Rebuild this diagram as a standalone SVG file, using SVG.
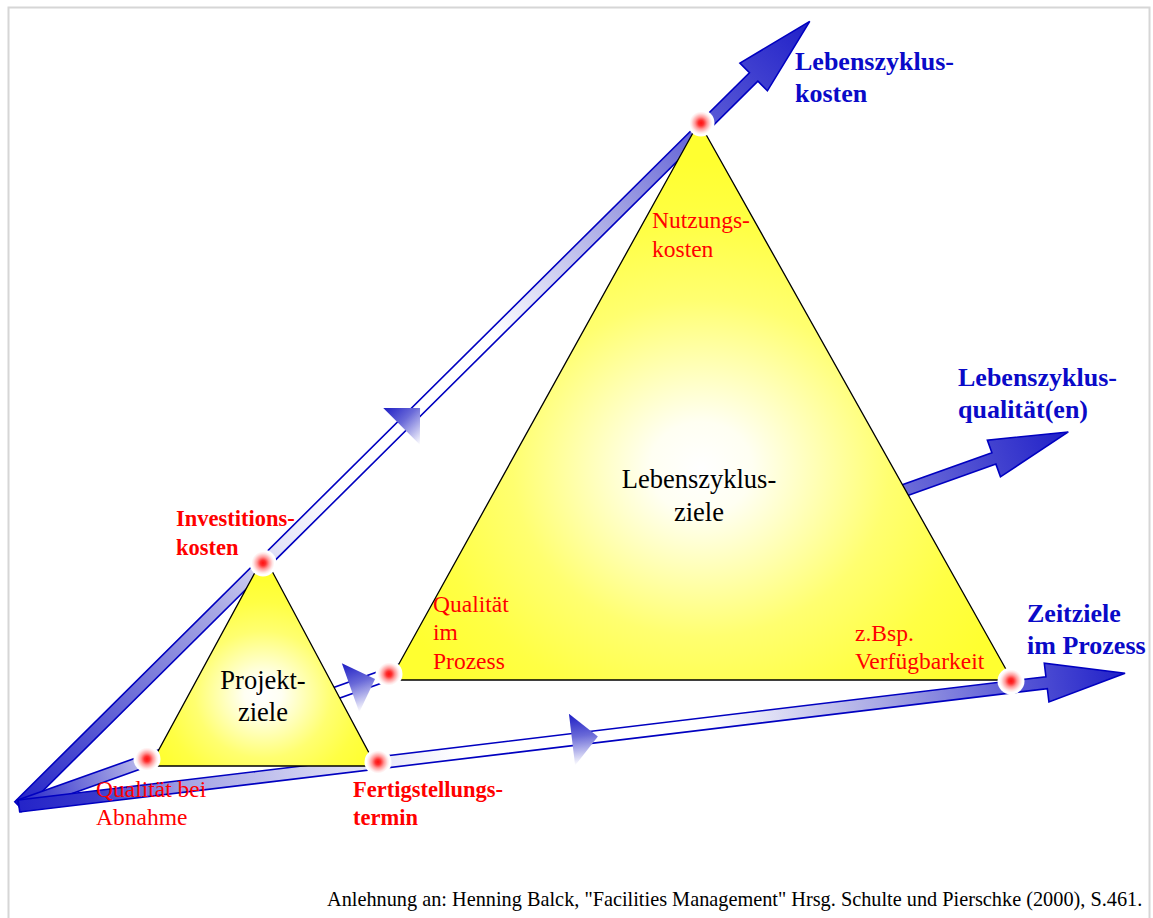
<svg xmlns="http://www.w3.org/2000/svg" width="1153" height="918" viewBox="0 0 1153 918">
  <defs>
    <style>
      .lbl-blue { font-family: "Liberation Serif", "Times New Roman", serif; font-size: 26px; font-weight: bold; fill: #0a0ac8; }
      .lbl-red { font-family: "Liberation Serif", "Times New Roman", serif; font-size: 23.5px; fill: #ff0000; }
      .lbl-red-b { font-family: "Liberation Serif", "Times New Roman", serif; font-size: 22.5px; font-weight: bold; fill: #ff0000; }
      .lbl-black { font-family: "Liberation Serif", "Times New Roman", serif; font-size: 26.5px; fill: #000000; text-anchor: middle; }
      .note { font-family: "Liberation Serif", "Times New Roman", serif; font-size: 20.3px; fill: #000000; }
      .band { stroke: #0000c0; stroke-width: 1.6; stroke-linejoin: miter; }
      .tri { stroke: #000000; stroke-width: 1.3; stroke-linejoin: miter; }
    </style>
    <!-- colour runs along each axis arrow: dark at the origin, white mid-way, dark at the head -->
    <linearGradient id="gradA" gradientUnits="userSpaceOnUse" x1="0" y1="0" x2="1114" y2="0">
      <stop offset="0" stop-color="#2424c8"/>
      <stop offset="0.25" stop-color="#a8a8e4"/>
      <stop offset="0.33" stop-color="#e4e4f8"/>
      <stop offset="0.4" stop-color="#ffffff"/>
      <stop offset="0.6" stop-color="#ffffff"/>
      <stop offset="0.76" stop-color="#a0a0e2"/>
      <stop offset="0.87" stop-color="#5a5ad6"/>
      <stop offset="1" stop-color="#2020c8"/>
    </linearGradient>
    <linearGradient id="gradB" gradientUnits="userSpaceOnUse" x1="0" y1="0" x2="1114" y2="0">
      <stop offset="0" stop-color="#2424c8"/>
      <stop offset="0.11" stop-color="#b0b0e8"/>
      <stop offset="0.2" stop-color="#ffffff"/>
      <stop offset="0.55" stop-color="#ffffff"/>
      <stop offset="0.845" stop-color="#6c6cd8"/>
      <stop offset="1" stop-color="#2020c8"/>
    </linearGradient>
    <linearGradient id="gradC" gradientUnits="userSpaceOnUse" x1="0" y1="0" x2="1114" y2="0">
      <stop offset="0" stop-color="#2424c8"/>
      <stop offset="0.07" stop-color="#3838cc"/>
      <stop offset="0.15" stop-color="#a4a4e4"/>
      <stop offset="0.3" stop-color="#dedef6"/>
      <stop offset="0.4" stop-color="#ffffff"/>
      <stop offset="0.62" stop-color="#ffffff"/>
      <stop offset="0.78" stop-color="#a8a8e4"/>
      <stop offset="0.9" stop-color="#5a5ad6"/>
      <stop offset="1" stop-color="#2020c8"/>
    </linearGradient>
    <!-- small direction marks on the bands -->
    <linearGradient id="markGrad" gradientUnits="userSpaceOnUse" x1="0" y1="-26" x2="0" y2="26">
      <stop offset="0" stop-color="#1c1cc4"/>
      <stop offset="0.45" stop-color="#6a6ad8"/>
      <stop offset="1" stop-color="#ffffff"/>
    </linearGradient>
    <!-- triangle fills: white core fading to yellow -->
    <radialGradient id="bigFill" cx="0.5" cy="0.62" r="0.55">
      <stop offset="0" stop-color="#ffffff"/>
      <stop offset="0.15" stop-color="#fffff2"/>
      <stop offset="0.55" stop-color="#ffff70"/>
      <stop offset="0.8" stop-color="#ffff44"/>
      <stop offset="1" stop-color="#ffff30"/>
    </radialGradient>
    <radialGradient id="smallFill" cx="0.5" cy="0.66" r="0.55">
      <stop offset="0" stop-color="#ffffff"/>
      <stop offset="0.15" stop-color="#fffff2"/>
      <stop offset="0.55" stop-color="#ffff70"/>
      <stop offset="0.8" stop-color="#ffff44"/>
      <stop offset="1" stop-color="#ffff30"/>
    </radialGradient>
    <!-- glowing corner points -->
    <radialGradient id="dotFill" cx="0.5" cy="0.5" r="0.5">
      <stop offset="0" stop-color="#ff1010"/>
      <stop offset="0.2" stop-color="#ff3030"/>
      <stop offset="0.45" stop-color="#ff9a9a"/>
      <stop offset="0.7" stop-color="#ffe4e4"/>
      <stop offset="0.85" stop-color="#ffffff"/>
      <stop offset="1" stop-color="#ffffff"/>
    </radialGradient>
    <polygon id="axisShape" points="0,-6 1035,-6 1035,-19.5 1114,0 1035,19.5 1035,6 0,6"/>
    <polygon id="markShape" points="0,-26 26,0 0,26"/>
  </defs>

  <!-- frame -->
  <rect x="8.5" y="7.5" width="1141" height="930" fill="#ffffff" stroke="#d6d6d6" stroke-width="2"/>

  <!-- axis arrows from the common origin -->
  <g id="connectors">
    <g id="axis-kosten" transform="translate(19,806) rotate(-44.78)">
      <use href="#axisShape" class="band" fill="url(#gradA)"/>
      <use href="#markShape" transform="translate(539,0)" fill="url(#markGrad)"/>
    </g>
    <g id="axis-qualitaet" transform="translate(19,806) rotate(-19.62)">
      <use href="#axisShape" class="band" fill="url(#gradB)"/>
      <use href="#markShape" transform="translate(352,0)" fill="url(#markGrad)"/>
    </g>
    <g id="axis-zeit" transform="translate(19,806) rotate(-6.845)">
      <use href="#axisShape" class="band" fill="url(#gradC)"/>
      <use href="#markShape" transform="translate(557,0)" fill="url(#markGrad)"/>
    </g>
  </g>

  <!-- life-cycle goals triangle -->
  <g id="node-lebenszyklusziele">
    <polygon class="tri" points="699,122 390,680 1012,680" fill="url(#bigFill)"/>
    <text class="lbl-black" x="699" y="488">Lebenszyklus-</text>
    <text class="lbl-black" x="699" y="521">ziele</text>
  </g>

  <!-- project goals triangle -->
  <g id="node-projektziele">
    <polygon class="tri" points="264,556 150,766 376,766" fill="url(#smallFill)"/>
    <text class="lbl-black" x="263" y="689">Projekt-</text>
    <text class="lbl-black" x="263" y="721">ziele</text>
  </g>

  <!-- corner points -->
  <g id="node-nutzungskosten">
    <circle cx="701" cy="123" r="13.5" fill="url(#dotFill)"/>
    <text class="lbl-red" x="652" y="228">Nutzungs-</text>
    <text class="lbl-red" x="652" y="257">kosten</text>
  </g>
  <g id="node-investitionskosten">
    <circle cx="263" cy="563" r="13.5" fill="url(#dotFill)"/>
    <text class="lbl-red-b" x="176" y="526">Investitions-</text>
    <text class="lbl-red-b" x="176" y="555">kosten</text>
  </g>
  <g id="node-qualitaet-abnahme">
    <circle cx="147" cy="759" r="13.5" fill="url(#dotFill)"/>
    <text class="lbl-red" x="96" y="797">Qualität bei</text>
    <text class="lbl-red" x="96" y="825">Abnahme</text>
  </g>
  <g id="node-fertigstellungstermin">
    <circle cx="378" cy="762" r="13.5" fill="url(#dotFill)"/>
    <text class="lbl-red-b" x="353" y="797">Fertigstellungs-</text>
    <text class="lbl-red-b" x="353" y="825">termin</text>
  </g>
  <g id="node-qualitaet-prozess">
    <circle cx="389" cy="674" r="13.5" fill="url(#dotFill)"/>
    <text class="lbl-red" x="433" y="612">Qualität</text>
    <text class="lbl-red" x="433" y="640">im</text>
    <text class="lbl-red" x="433" y="669">Prozess</text>
  </g>
  <g id="node-verfuegbarkeit">
    <circle cx="1011" cy="681" r="13.5" fill="url(#dotFill)"/>
    <text class="lbl-red" x="855" y="641">z.Bsp.</text>
    <text class="lbl-red" x="855" y="669">Verfügbarkeit</text>
  </g>

  <!-- axis titles -->
  <g id="label-lebenszykluskosten">
    <text class="lbl-blue" x="795" y="70">Lebenszyklus-</text>
    <text class="lbl-blue" x="795" y="102">kosten</text>
  </g>
  <g id="label-lebenszyklusqualitaet">
    <text class="lbl-blue" x="958" y="386">Lebenszyklus-</text>
    <text class="lbl-blue" x="958" y="418">qualität(en)</text>
  </g>
  <g id="label-zeitziele">
    <text class="lbl-blue" x="1027" y="622">Zeitziele</text>
    <text class="lbl-blue" x="1027" y="654">im Prozess</text>
  </g>

  <text class="note" x="327" y="906">Anlehnung an: Henning Balck, "Facilities Management" Hrsg. Schulte und Pierschke (2000), S.461.</text>
</svg>
